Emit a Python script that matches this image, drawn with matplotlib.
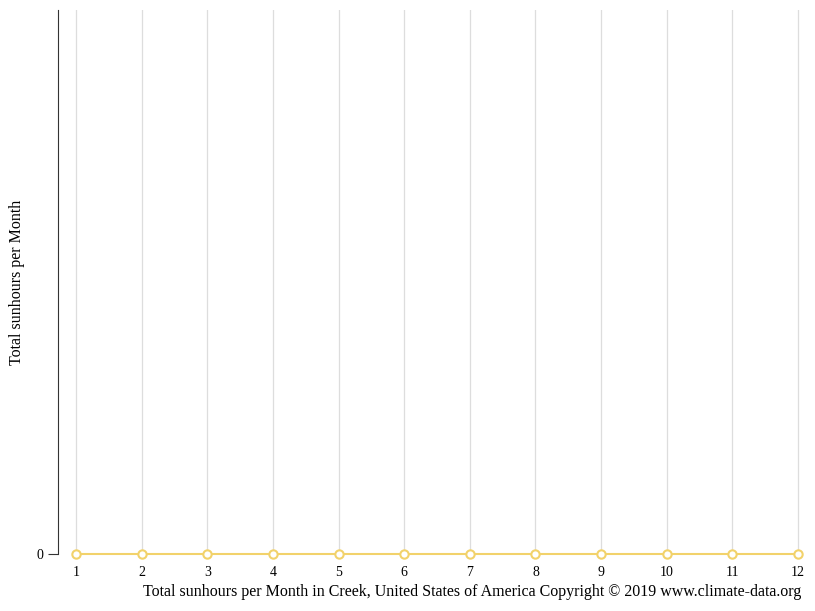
import matplotlib.pyplot as plt

plt.rcParams['font.family'] = ['Liberation Serif', 'DejaVu Serif']

months = [1, 2, 3, 4, 5, 6, 7, 8, 9, 10, 11, 12]
sunhours = [0, 0, 0, 0, 0, 0, 0, 0, 0, 0, 0, 0]

fig = plt.figure(figsize=(8.15, 6.11), dpi=100)
ax = fig.add_axes([58 / 815, 57 / 611, 745 / 815, 544 / 611])

ax.plot(months, sunhours, color='#f2d26b', linewidth=1.5, marker='o',
        markersize=6, markerfacecolor='white', markeredgecolor='#f2d26b',
        markeredgewidth=1.5, clip_on=False, zorder=3)

ax.set_xlim(0.726, 12.076)
ax.set_ylim(0, 1)
ax.set_xticks(months)
ax.set_yticks([0])
ax.grid(axis='x', color='#dddddd', linewidth=0.9)
ax.set_axisbelow(True)

for side in ['top', 'right', 'bottom']:
    ax.spines[side].set_visible(False)
ax.spines['left'].set_color('#333333')
ax.tick_params(axis='x', length=0, pad=9, labelsize=10)
ax.tick_params(axis='y', length=7.5, color='#333333', labelsize=10, pad=3)

fig.text(17 / 815, 1 - 282 / 611, 'Total sunhours per Month',
         rotation=90, ha='center', va='center', fontsize=11.5)
fig.text(801 / 815, 1 - 592 / 611,
         'Total sunhours per Month in Creek, United States of America Copyright © 2019 www.climate-data.org',
         ha='right', va='center', fontsize=11.5)

fig.savefig('out.png', dpi=100)
